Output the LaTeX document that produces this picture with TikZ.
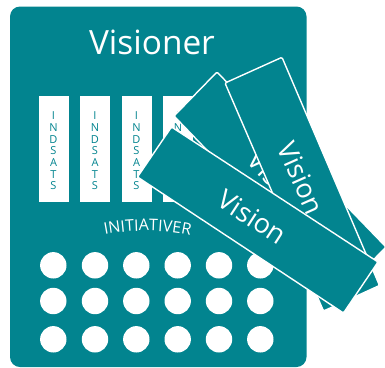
\documentclass[tikz,border=0pt]{standalone}
\usepackage{fontspec}
\setmainfont{Open Sans}
\usetikzlibrary{decorations.text}
\definecolor{tealc}{HTML}{02848F}
\tikzset{
  board/.style={fill=tealc,rounded corners=10pt},
  barbox/.style={fill=white},
  dotc/.style={fill=white},
  card/.style={fill=tealc,draw=white,line width=1.4pt,line join=round,rounded corners=1.2pt},
  cardtext/.style={text=white,font=\fontsize{27}{27}\selectfont,inner sep=0pt},
  vert/.style={text=tealc,font=\fontsize{11}{11.7}\selectfont,inner sep=0pt,align=center}
}
\begin{document}
\begin{tikzpicture}[x=1pt,y=-1pt]
\useasboundingbox (0,0) rectangle (385,367);
\clip (0,0) rectangle (385,367);
\fill[board] (10,6.5) rectangle (306.5,367);
\node[text=white,font=\fontsize{33.4}{34}\selectfont,inner sep=0pt] (title) at (152,42) {Visioner};
\foreach \x/\n in {38.5/a,80/b,121.5/c,163/d}{
  \fill[barbox] (\x,96) rectangle ++(30,106);
  \foreach \l/\c [count=\i from 0] in {I/1,N/2,D/3,S/4,A/5,T/6,S/7}{
    \node[vert] (l\n\i) at (\x+15,115.7+\i*11.7) {\l};
  }
}
\path[postaction={decorate,decoration={text along path,text align=center,
   text={|\fontsize{16}{16}\selectfont\color{white}|INITIATIVER}}}]
   (100,235.5) .. controls (130,229) and (165,229) .. (195,236.5);
\foreach \y in {265.3,301,339.3}
  \foreach \x in {53.3,95,136.3,177.7,219,260.3}
    \fill[dotc] (\x,\y) circle (13.2);
% back card
\draw[card] (217,72) -- (174,116) -- (343,291) -- (386,247) -- cycle;
\node[cardtext,rotate=-46] (v3) at (279,182) {Vision};
% middle card
\draw[card] (282,57.3) -- (225,83) -- (323.5,311) -- (379.5,285.5) -- cycle;
\node[cardtext,rotate=-66] (v2) at (301,178) {Vision};
% front card
\draw[card] (171.5,127) -- (137.5,177) -- (343.5,313) -- (378,262) -- cycle;
\node[cardtext,rotate=-33] (v1) at (252.5,217) {Vision};
\end{tikzpicture}
\end{document}
